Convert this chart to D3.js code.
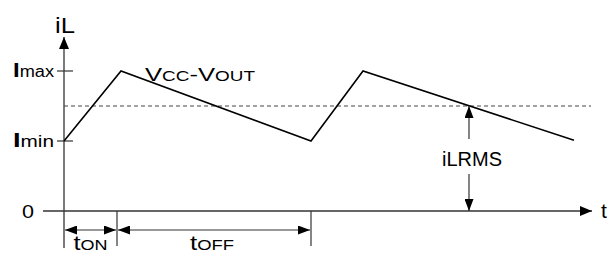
<!DOCTYPE html>
<html>
<head>
<meta charset="utf-8">
<script src="https://cdn.jsdelivr.net/npm/d3@7"></script>
<style>
  body { margin: 0; background: #fff; }
  svg { display: block; font-family: "Liberation Sans", Arial, sans-serif; }
</style>
</head>
<body>
<svg id="chart" width="613" height="255"></svg>
<script>
// waveform of the inductor current
const timeVals = [0, 1.14, 4.94, 5.98, 10.2];
const currentVals = [1.0, 2.0, 1.0, 2.0, 1.01];
// levels on the current axis
const levelNames = ["Imin", "Imax"];
const levelVals = [1.0, 2.0];
const rmsLevel = 1.5;
const rmsTime = 8.1;
// time intervals under the axis
const intervalNames = ["tON", "tOFF"];
const intervalStarts = [0, 1.06];
const intervalEnds = [1.06, 4.94];

let svg = d3.select("#chart");
let x = d3.scaleLinear().domain([0, 10.5]).range([64, 589]);
let y = d3.scaleLinear().domain([0, 2]).range([211, 71]);
let axisColor = "#333";

// stretch a label to the width seen in the picture
let stretch = (sel, w) => sel.attr("textLength", w).attr("lengthAdjust", "spacingAndGlyphs");

// arrowhead markers
let defs = svg.append("defs");
let addMarker = (id, w, h) => {
    defs.append("marker")
        .attr("id", id)
        .attr("viewBox", `0 0 ${w} ${h}`)
        .attr("refX", w).attr("refY", h / 2)
        .attr("markerWidth", w).attr("markerHeight", h)
        .attr("markerUnits", "userSpaceOnUse")
        .attr("orient", "auto-start-reverse")
        .append("path")
        .attr("d", `M0,0 L${w},${h / 2} L0,${h} Z`)
        .style("fill", "#000");
};
addMarker("axisHead", 12, 10);
addMarker("dimHead", 12, 9);

// x axis (t)
svg.append("line")
    .attr("x1", 43).attr("x2", x(10.5) + 3)
    .attr("y1", y(0)).attr("y2", y(0))
    .style("stroke", axisColor).style("stroke-width", 1.3)
    .attr("marker-end", "url(#axisHead)");

// y axis (iL)
svg.append("line")
    .attr("x1", x(0)).attr("x2", x(0))
    .attr("y1", 248).attr("y2", 37)
    .style("stroke", axisColor).style("stroke-width", 1.3)
    .attr("marker-end", "url(#axisHead)");

// level ticks and labels
levelVals.forEach((v, i) => {
    svg.append("line")
        .attr("x1", x(0) - 7).attr("x2", x(0) + 9)
        .attr("y1", y(v)).attr("y2", y(v))
        .style("stroke", axisColor).style("stroke-width", 1.2);
    let t = svg.append("text")
        .attr("x", x(0) - 10).attr("y", y(v) + 6)
        .attr("text-anchor", "end")
        .style("font-size", "16px")
        .call(stretch, 41);
    t.append("tspan").text(levelNames[i][0]).style("font-weight", "bold").style("font-size", "21px");
    t.append("tspan").text(levelNames[i].slice(1));
});

svg.append("text").attr("x", 22).attr("y", y(0) + 7)
    .style("font-size", "19px").text("0")
    .call(stretch, 12);
svg.append("text").attr("x", 55).attr("y", 33)
    .style("font-size", "22px").text("iL")
    .call(stretch, 20);
svg.append("text").attr("x", 601).attr("y", y(0) + 7)
    .style("font-size", "21px").text("t");

// rms dashed level
svg.append("line")
    .attr("x1", x(0)).attr("x2", 591)
    .attr("y1", y(rmsLevel)).attr("y2", y(rmsLevel))
    .style("stroke", "#444").style("stroke-width", 1)
    .style("stroke-dasharray", "4,3");

// waveform
let line = d3.line().x(d => x(d[0])).y(d => y(d[1]));
svg.append("path")
    .datum(d3.zip(timeVals, currentVals))
    .attr("d", line)
    .style("fill", "none").style("stroke", "#000").style("stroke-width", 1.6);

// Vcc-Vout label
let vt = svg.append("text").attr("x", 145).attr("y", 81)
    .style("font-size", "19px")
    .call(stretch, 110);
vt.append("tspan").text("V");
vt.append("tspan").text("CC").style("font-size", "14px");
vt.append("tspan").text("-");
vt.append("tspan").text("V");
vt.append("tspan").text("OUT").style("font-size", "14px");

// iLRMS dimension arrow
svg.append("line")
    .attr("x1", x(rmsTime)).attr("x2", x(rmsTime))
    .attr("y1", 139).attr("y2", y(rmsLevel))
    .style("stroke", axisColor).style("stroke-width", 1.2)
    .attr("marker-end", "url(#dimHead)");
svg.append("line")
    .attr("x1", x(rmsTime)).attr("x2", x(rmsTime))
    .attr("y1", 174).attr("y2", y(0))
    .style("stroke", axisColor).style("stroke-width", 1.2)
    .attr("marker-end", "url(#dimHead)");
svg.append("text").attr("x", x(rmsTime) + 3).attr("y", 166)
    .attr("text-anchor", "middle").style("font-size", "20px").text("iLRMS");

// tON / tOFF intervals
let dimY = 230;
intervalEnds.forEach(v => {
    svg.append("line")
        .attr("x1", x(v)).attr("x2", x(v))
        .attr("y1", y(0)).attr("y2", 246)
        .style("stroke", axisColor).style("stroke-width", 1.2);
});
let labelWidths = [34, 44];
intervalNames.forEach((name, i) => {
    let a = x(intervalStarts[i]), b = x(intervalEnds[i]);
    svg.append("line")
        .attr("x1", a + 1).attr("x2", b - 1)
        .attr("y1", dimY).attr("y2", dimY)
        .style("stroke", axisColor).style("stroke-width", 1.2)
        .attr("marker-start", "url(#dimHead)")
        .attr("marker-end", "url(#dimHead)");
    let t = svg.append("text")
        .attr("x", (a + b) / 2 + (i ? -2 : 0)).attr("y", 250)
        .attr("text-anchor", "middle")
        .style("font-size", "21px")
        .call(stretch, labelWidths[i]);
    t.append("tspan").text(name[0]);
    t.append("tspan").text(name.slice(1)).style("font-size", "15px");
});
</script>
</body>
</html>
